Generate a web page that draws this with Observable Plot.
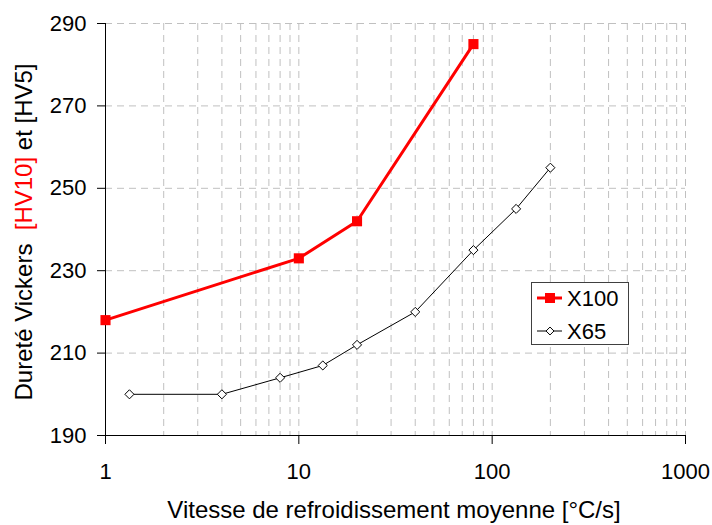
<!DOCTYPE html>
<html>
<head>
<meta charset="utf-8">
<script src="https://cdn.jsdelivr.net/npm/d3@7"></script>
<script src="https://cdn.jsdelivr.net/npm/@observablehq/plot@0.6"></script>
<style>
  html, body { margin: 0; padding: 0; background: white; }
  #chart { width: 712px; height: 525px; }
</style>
</head>
<body>
<div id="chart"></div>
<script>
// Data
const x100Speed = [1, 10, 20, 80];
const x100Hardness = [218, 233, 242, 285];
const x65Speed = [1.33, 4, 8, 13.3, 20, 40, 80, 133, 200];
const x65Hardness = [200, 200, 204, 207, 212, 220, 235, 245, 255];
const xTickValues = [1, 10, 100, 1000];
const yTickValues = [190, 210, 230, 250, 270, 290];
const seriesNames = ["X100", "X65"];

const x100 = x100Speed.map((s, i) => ({speed: s, hv: x100Hardness[i]}));
const x65 = x65Speed.map((s, i) => ({speed: s, hv: x65Hardness[i]}));
const xGridValues = d3.scaleLog().domain([1, 1000]).ticks().filter(d => d > 1);
const yGridValues = yTickValues.filter(d => d > 190);

const font = "'Liberation Sans', Arial, sans-serif";
const grid = {stroke: "#c0c0c0", strokeOpacity: 1, strokeDasharray: "7,5", strokeWidth: 1};

const chart = Plot.plot({
  width: 712,
  height: 525,
  marginLeft: 105,
  marginRight: 27,
  marginTop: 23,
  marginBottom: 90,
  style: {fontFamily: font, fontSize: "22px", background: "white", color: "black"},
  x: {type: "log", domain: [1, 1000]},
  y: {domain: [190, 290]},
  marks: [
    Plot.gridX(xGridValues, grid),
    Plot.gridY(yGridValues, grid),
    Plot.axisX(xTickValues, {tickSize: 9, tickPadding: 19, tickFormat: d => String(d), label: null, fontSize: 22, color: "black"}),
    Plot.axisY(yTickValues, {tickSize: 8, tickPadding: 11, label: null, fontSize: 22, color: "black"}),
    Plot.ruleX([1], {stroke: "black", strokeWidth: 1}),
    Plot.ruleY([190], {stroke: "black", strokeWidth: 1}),
    Plot.line(x65, {x: "speed", y: "hv", stroke: "black", strokeWidth: 1}),
    Plot.dot(x65, {x: "speed", y: "hv", symbol: "diamond2", r: 4.1, fill: "white", stroke: "black", strokeWidth: 1}),
    Plot.line(x100, {x: "speed", y: "hv", stroke: "#ff0000", strokeWidth: 3}),
    Plot.dot(x100, {x: "speed", y: "hv", symbol: "square", r: 5.7, fill: "#ff0000", stroke: "none"})
  ]
});

const svg = d3.select(chart);
svg.attr("font-family", font);

// Y title with coloured part
const yt = svg.append("text")
  .attr("transform", "translate(32,232) rotate(-90)")
  .attr("text-anchor", "middle")
  .attr("font-size", 24)
  .attr("fill", "black");
yt.append("tspan").text("Dureté Vickers  ");
yt.append("tspan").attr("fill", "#ff0000").text("[HV10]");
yt.append("tspan").text(" et [HV5]");

// X title
svg.append("text")
  .attr("x", 394).attr("y", 518)
  .attr("text-anchor", "middle")
  .attr("font-size", 24)
  .attr("fill", "black")
  .text("Vitesse de refroidissement moyenne [°C/s]");

// Legend
const lg = svg.append("g").attr("text-anchor", "start");
lg.append("rect").attr("x", 531.5).attr("y", 282.5).attr("width", 97).attr("height", 62)
  .attr("fill", "white").attr("stroke", "#404040").attr("stroke-width", 1);
const rows = [
  {name: seriesNames[0], y: 298, color: "#ff0000", w: 3, sym: d3.symbolSquare, size: 100, fill: "#ff0000", stroke: "none"},
  {name: seriesNames[1], y: 331, color: "black", w: 1, sym: d3.symbolDiamond2, size: 40, fill: "white", stroke: "black"}
];
rows.forEach(r => {
  lg.append("line").attr("x1", 537).attr("x2", 562).attr("y1", r.y).attr("y2", r.y)
    .attr("stroke", r.color).attr("stroke-width", r.w);
  lg.append("path").attr("d", d3.symbol(r.sym, r.size)()).attr("transform", `translate(550,${r.y})`)
    .attr("fill", r.fill).attr("stroke", r.stroke);
  lg.append("text").attr("x", 567).attr("y", r.y + 8).attr("text-anchor", "start")
    .attr("font-size", 22).attr("fill", "black").text(r.name);
});

document.getElementById("chart").appendChild(chart);
</script>
</body>
</html>
